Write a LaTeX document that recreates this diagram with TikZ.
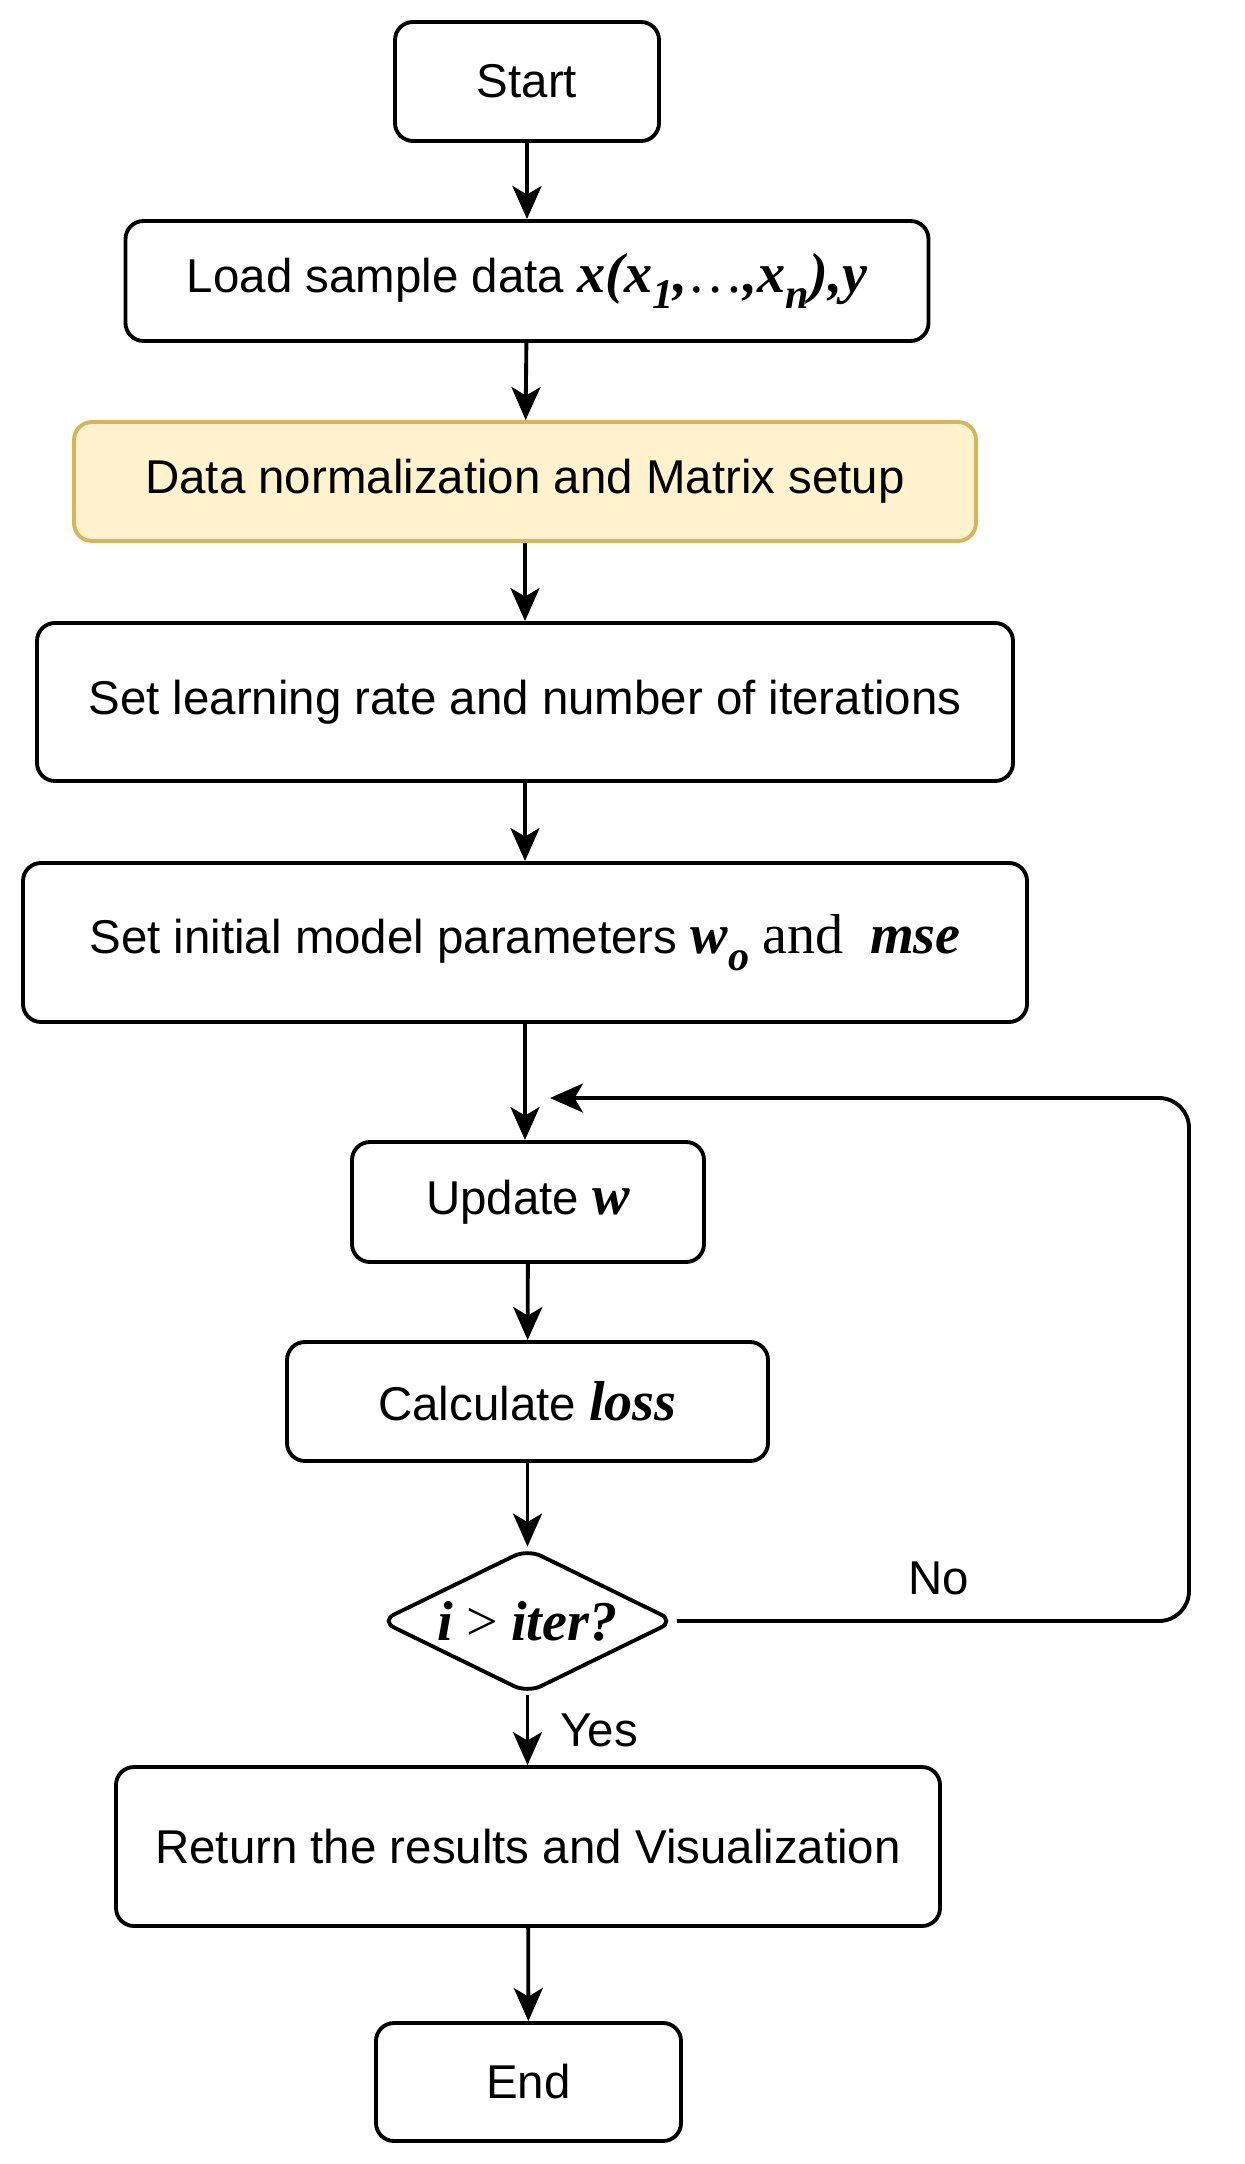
\documentclass[tikz,border=0pt]{standalone}
\usepackage{fontspec}
\setmainfont{Liberation Sans}
\newfontfamily\serfont{Liberation Serif}
\usetikzlibrary{arrows.meta}
\usetikzlibrary{shapes.geometric}
\definecolor{noteyellow}{HTML}{FFF2CC}
\definecolor{noteborder}{HTML}{D6B656}
\newcommand{\mv}[1]{{\serfont\bfseries\itshape\fontsize{32}{34}\selectfont #1}}
\newcommand{\mrm}[1]{{\serfont\fontsize{32}{34}\selectfont #1}}
\newcommand{\msub}[1]{\raisebox{-0.3em}{\fontsize{24}{26}\selectfont #1}}
\newcommand{\stepbox}[6]{\node[procbox, minimum width=#4cm, minimum height=#5cm] (#1) at ( #2 , #3 ) {#6};}
\tikzset{
  procbox/.style={draw, line width=2.2pt, rounded corners=0.36cm, fill=white, inner sep=0pt, font=\fontsize{27}{30}\selectfont},
  flow/.style={line width=2.2pt, -{Stealth[length=0.66cm, width=0.58cm, inset=0.17cm]}}
}

\begin{document}
\begin{tikzpicture}
        \useasboundingbox (0,0) rectangle (24.88,-43.28);
        % boxes
        \stepbox{start}{10.54}{-1.63}{5.28}{2.38}{Start}
        \stepbox{load}{10.54}{-5.62}{16.06}{2.40}{Load sample data \mv{x(x\msub{1},}\mrm{\ldots}\mv{,x\msub{n}),y}}
        \node[procbox, fill=noteyellow, draw=noteborder, minimum width=18.04cm, minimum height=2.38cm] (norm) at (10.50,-9.63) {Data normalization and Matrix setup};
        \stepbox{learn}{10.50}{-14.04}{19.52}{3.16}{Set learning rate and number of iterations}
        \stepbox{init}{10.50}{-18.85}{20.08}{3.18}{Set initial model parameters \mv{w\msub{o}} \mrm{and}\ \ \mv{mse}}
        \stepbox{upd}{10.56}{-24.04}{7.04}{2.40}{Update \mv{w}}
        \stepbox{calc}{10.55}{-28.03}{9.62}{2.38}{Calculate \mv{loss}}
        \node[diamond, draw, line width=2.2pt, rounded corners=0.3cm, aspect=2, inner sep=0pt,
              font=\fontsize{27}{30}\selectfont,
              minimum width=5.9cm, minimum height=2.9cm] (cond) at (10.55,-32.42)
              {\mv{i} \mrm{>} \mv{iter?}};
        \stepbox{ret}{10.56}{-36.93}{16.48}{3.18}{Return the results and Visualization}
        \stepbox{stop}{10.57}{-41.64}{6.10}{2.36}{End}
        % arrows down
        \draw[flow] (start) -- (load);
        \draw[flow] (load) -- (norm);
        \draw[flow] (norm) -- (learn);
        \draw[flow] (learn) -- (init);
        \draw[flow] (init.south) -- (init.south |- upd.north);
        \draw[flow] (upd) -- (calc);
        \draw[flow] (calc) -- (cond);
        \draw[flow] (cond.south) -- (cond.south |- ret.north);
        \draw[flow] (ret) -- (stop);
        % loop back
        \coordinate (back) at (11.0,-21.96);
        \draw[flow, rounded corners=0.6cm] (cond.east) -- (23.78,-32.42) -- (23.78,-21.96) -- (back);
        % labels
        \node[font=\fontsize{27}{30}\selectfont] (no) at (18.78,-31.56) {No};
        \node[font=\fontsize{27}{30}\selectfont] (yes) at (11.98,-34.60) {Yes};
\end{tikzpicture}
\end{document}
